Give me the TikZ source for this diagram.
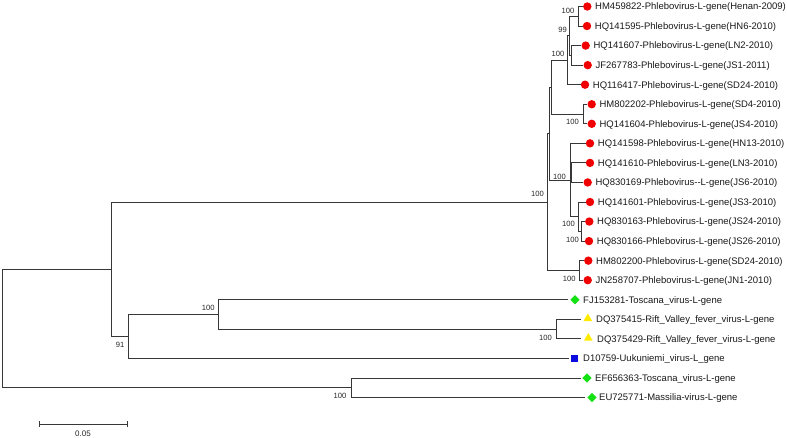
\documentclass[tikz,border=0pt]{standalone}
\usepackage{fontspec}
\setmainfont{Liberation Sans}
\usetikzlibrary{shapes.geometric}
\definecolor{branch}{RGB}{55,55,55}
\definecolor{dotred}{RGB}{240,0,0}
\definecolor{diagreen}{RGB}{20,225,20}
\definecolor{triyellow}{RGB}{255,235,0}
\definecolor{sqblue}{RGB}{10,10,225}
\begin{document}
\begin{tikzpicture}[x=1pt,y=-1pt,
  br/.style={draw=branch,line width=0.85pt},
  lbl/.style={anchor=base west,inner sep=0pt,font=\fontsize{9.5}{10}\selectfont,text=black!90},
  bs/.style={inner sep=0pt,font=\fontsize{7.6}{8}\selectfont,text=black!85},
  dotm/.style={circle,fill=dotred,inner sep=0pt,minimum size=8.4pt},
  dia/.style={diamond,fill=diagreen,inner sep=0pt,minimum size=9.5pt},
  tri/.style={regular polygon,regular polygon sides=3,fill=triyellow,inner sep=0pt,minimum size=10pt},
  sq/.style={rectangle,fill=sqblue,inner sep=0pt,minimum size=7pt}]
\useasboundingbox (0,0) rectangle (787,438);
% internal nodes
\coordinate (R) at (2.5,328.45);
\coordinate (Q) at (111,269.2);
\coordinate (J) at (547.5,202);
\coordinate (H) at (549.5,133.6);
\coordinate (F) at (551,87.2);
\coordinate (E) at (567,60.3);
\coordinate (C) at (569.5,35.85);
\coordinate (A) at (578,16.3);
\coordinate (D) at (571.5,55.4);
\coordinate (G) at (583,114);
\coordinate (I) at (570,180);
\coordinate (I2) at (571.5,172.7);
\coordinate (L) at (578,216.7);
\coordinate (M) at (581,231.3);
\coordinate (K) at (579.3,270.4);
\coordinate (P) at (128,336.4);
\coordinate (N) at (218,314.4);
\coordinate (O) at (556,329.1);
\coordinate (S) at (351,387.7);
% leaf ends
\coordinate (e1) at (582.8,6.5);
\coordinate (e2) at (582.5,26.05);
\coordinate (e3) at (581.2,45.6);
\coordinate (e4) at (583.2,65.15);
\coordinate (e5) at (580.5,84.7);
\coordinate (e6) at (587.2,104.25);
\coordinate (e7) at (587.2,123.8);
\coordinate (e8) at (585.5,143.35);
\coordinate (e9) at (585.5,162.9);
\coordinate (e10) at (583.2,182.45);
\coordinate (e11) at (585.5,202);
\coordinate (e12) at (584.8,221.55);
\coordinate (e13) at (584.5,241.1);
\coordinate (e14) at (583.8,260.65);
\coordinate (e15) at (583.2,280.2);
\coordinate (e16) at (568,299.75);
\coordinate (e17) at (580.5,319.3);
\coordinate (e18) at (581,338.85);
\coordinate (e19) at (569,358.4);
\coordinate (e20) at (580.5,377.95);
\coordinate (e21) at (585,397.5);
% branches
\draw[br] (R) |- (Q);
\draw[br] (R) |- (S);
\draw[br] (Q) |- (J);
\draw[br] (Q) |- (P);
\draw[br] (J) |- (H);
\draw[br] (J) |- (K);
\draw[br] (H) |- (F);
\draw[br] (H) |- (I);
\draw[br] (F) |- (E);
\draw[br] (F) |- (G);
\draw[br] (E) |- (C);
\draw[br] (E) |- (e5);
\draw[br] (C) |- (A);
\draw[br] (C) |- (D);
\draw[br] (A) |- (e1);
\draw[br] (A) |- (e2);
\draw[br] (D) |- (e3);
\draw[br] (D) |- (e4);
\draw[br] (G) |- (e6);
\draw[br] (G) |- (e7);
\draw[br] (I) |- (e8);
\draw[br] (I) |- (I2);
\draw[br] (I) |- (L);
\draw[br] (I2) |- (e9);
\draw[br] (I2) |- (e10);
\draw[br] (L) |- (e11);
\draw[br] (L) |- (M);
\draw[br] (M) |- (e12);
\draw[br] (M) |- (e13);
\draw[br] (K) |- (e14);
\draw[br] (K) |- (e15);
\draw[br] (P) |- (N);
\draw[br] (P) |- (e19);
\draw[br] (N) |- (e16);
\draw[br] (N) |- (O);
\draw[br] (O) |- (e17);
\draw[br] (O) |- (e18);
\draw[br] (S) |- (e20);
\draw[br] (S) |- (e21);
% symbols
\node[dotm] (s1) at (587.3,6.5) {};
\node[dotm] (s2) at (587,26.05) {};
\node[dotm] (s3) at (585.7,45.6) {};
\node[dotm] (s4) at (587.7,65.15) {};
\node[dotm] (s5) at (585,84.7) {};
\node[dotm] (s6) at (591.7,104.25) {};
\node[dotm] (s7) at (591.7,123.8) {};
\node[dotm] (s8) at (590,143.35) {};
\node[dotm] (s9) at (590,162.9) {};
\node[dotm] (s10) at (587.7,182.45) {};
\node[dotm] (s11) at (590,202) {};
\node[dotm] (s12) at (589.3,221.55) {};
\node[dotm] (s13) at (589,241.1) {};
\node[dotm] (s14) at (588.3,260.65) {};
\node[dotm] (s15) at (587.7,280.2) {};
\node[dia] (s16) at (575,299.75) {};
\node[tri] (s17) at (587.8,318.5) {};
\node[tri] (s18) at (588.3,338.05) {};
\node[sq] (s19) at (574.5,358.4) {};
\node[dia] (s20) at (587,377.95) {};
\node[dia] (s21) at (592,397.5) {};
% leaf labels
\node[lbl] (t1) at (595,9.9) {HM459822-Phlebovirus-L-gene(Henan-2009)};
\node[lbl] (t2) at (594.7,29.45) {HQ141595-Phlebovirus-L-gene(HN6-2010)};
\node[lbl] (t3) at (593.4,49) {HQ141607-Phlebovirus-L-gene(LN2-2010)};
\node[lbl] (t4) at (595.4,68.55) {JF267783-Phlebovirus-L-gene(JS1-2011)};
\node[lbl] (t5) at (592.7,88.1) {HQ116417-Phlebovirus-L-gene(SD24-2010)};
\node[lbl] (t6) at (599.4,107.65) {HM802202-Phlebovirus-L-gene(SD4-2010)};
\node[lbl] (t7) at (599.4,127.2) {HQ141604-Phlebovirus-L-gene(JS4-2010)};
\node[lbl] (t8) at (597.7,146.75) {HQ141598-Phlebovirus-L-gene(HN13-2010)};
\node[lbl] (t9) at (597.7,166.3) {HQ141610-Phlebovirus-L-gene(LN3-2010)};
\node[lbl] (t10) at (595.4,185.85) {HQ830169-Phlebovirus-\kern0pt-L-gene(JS6-2010)};
\node[lbl] (t11) at (597.7,205.4) {HQ141601-Phlebovirus-L-gene(JS3-2010)};
\node[lbl] (t12) at (597,224.95) {HQ830163-Phlebovirus-L-gene(JS24-2010)};
\node[lbl] (t13) at (596.7,244.5) {HQ830166-Phlebovirus-L-gene(JS26-2010)};
\node[lbl] (t14) at (596,264.05) {HM802200-Phlebovirus-L-gene(SD24-2010)};
\node[lbl] (t15) at (595.4,283.6) {JN258707-Phlebovirus-L-gene(JN1-2010)};
\node[lbl] (t16) at (583,303.15) {FJ153281-Toscana\_virus-L-gene};
\node[lbl] (t17) at (596,322.7) {DQ375415-Rift\_Valley\_fever\_virus-L-gene};
\node[lbl] (t18) at (597,342.25) {DQ375429-Rift\_Valley\_fever\_virus-L-gene};
\node[lbl] (t19) at (583,361.8) {D10759-Uukuniemi\_virus-L\_gene};
\node[lbl] (t20) at (595,381.35) {EF656363-Toscana\_virus-L-gene};
\node[lbl] (t21) at (599,400.9) {EU725771-Massilia-virus-L-gene};
% bootstrap values
\node[bs] (bA) at (568,11) {100};
\node[bs] (bC) at (562.5,30) {99};
\node[bs] (bE) at (558,54) {100};
\node[bs] (bG) at (572.5,121.5) {100};
\node[bs] (bI) at (559.5,177) {100};
\node[bs] (bJ) at (537.5,193.5) {100};
\node[bs] (bL) at (568.5,223.5) {100};
\node[bs] (bM) at (572.5,240.3) {100};
\node[bs] (bK) at (569.3,279) {100};
\node[bs] (bN) at (208.3,308.3) {100};
\node[bs] (bO) at (545.5,337.8) {100};
\node[bs] (bP) at (120,345.3) {91};
\node[bs] (bS) at (340,396) {100};
% scale bar
\coordinate (sb1) at (39,424);
\coordinate (sb2) at (127,424);
\draw[br] (sb1) -- (sb2);
\draw[br] ([yshift=-2.6pt]sb1) -- ([yshift=2.6pt]sb1);
\draw[br] ([yshift=-2.6pt]sb2) -- ([yshift=2.6pt]sb2);
\node[bs,font=\fontsize{8}{9}\selectfont] (sbl) at (83,434) {0.05};
\end{tikzpicture}
\end{document}
